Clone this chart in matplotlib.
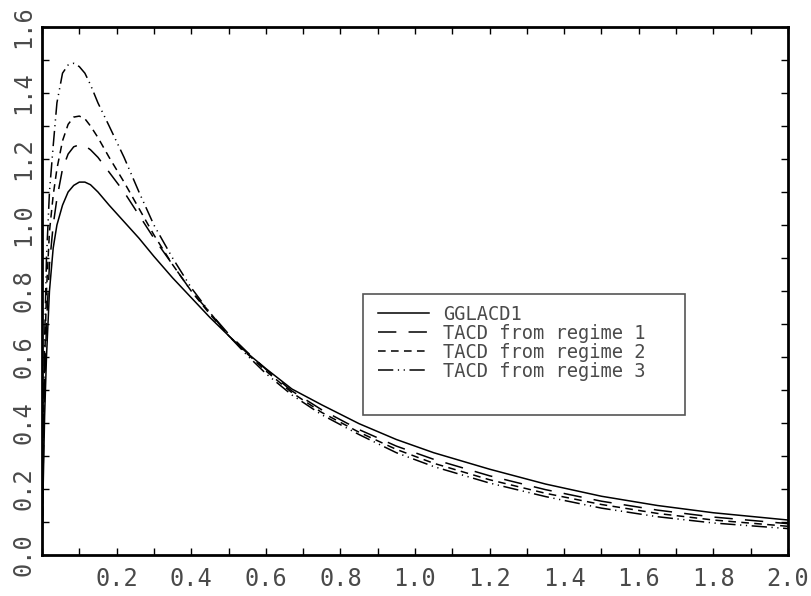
import numpy as np
import matplotlib
matplotlib.use('Agg')
import matplotlib.pyplot as plt
from matplotlib.ticker import MultipleLocator, FixedLocator
from matplotlib.patches import Rectangle

# values
x = [0, 0.003, 0.007, 0.012, 0.02, 0.03, 0.04, 0.055, 0.07, 0.085, 0.1, 0.115, 0.13,
     0.15, 0.18, 0.22, 0.26, 0.3, 0.35, 0.4, 0.45, 0.5, 0.55, 0.6, 0.67, 0.75,
     0.85, 0.95, 1.05, 1.2, 1.35, 1.5, 1.65, 1.8, 2.0]

gglacd1 = [0, 0.2, 0.42, 0.6, 0.8, 0.93, 1.0, 1.06, 1.1, 1.12, 1.13, 1.13, 1.122,
           1.1, 1.06, 1.01, 0.96, 0.905, 0.84, 0.78, 0.72, 0.665, 0.612, 0.565, 0.503, 0.455,
           0.398, 0.35, 0.31, 0.26, 0.215, 0.178, 0.15, 0.128, 0.106]
regime1 = [0, 0.25, 0.5, 0.7, 0.88, 1.0, 1.08, 1.17, 1.215, 1.237, 1.243, 1.24, 1.228,
           1.205, 1.16, 1.1, 1.03, 0.96, 0.88, 0.8, 0.735, 0.67, 0.615, 0.563, 0.497, 0.44,
           0.38, 0.33, 0.29, 0.24, 0.198, 0.163, 0.136, 0.115, 0.095]
regime2 = [0, 0.3, 0.58, 0.8, 0.98, 1.09, 1.17, 1.255, 1.305, 1.327, 1.33, 1.322, 1.3,
           1.265, 1.205, 1.13, 1.05, 0.97, 0.88, 0.8, 0.73, 0.665, 0.61, 0.558, 0.492, 0.432,
           0.372, 0.32, 0.278, 0.228, 0.187, 0.153, 0.126, 0.106, 0.087]
regime3 = [0, 0.35, 0.65, 0.9, 1.1, 1.24, 1.37, 1.46, 1.485, 1.49, 1.48, 1.46, 1.425,
           1.37, 1.3, 1.205, 1.1, 1.0, 0.9, 0.81, 0.735, 0.665, 0.605, 0.55, 0.485, 0.425,
           0.365, 0.31, 0.268, 0.218, 0.177, 0.142, 0.116, 0.097, 0.08]

labels = ['GGLACD1', 'TACD from regime 1', 'TACD from regime 2', 'TACD from regime 3']

plt.rcParams['font.family'] = ['DejaVu Sans Mono']
txtcol = '#4a4a4a'

fig = plt.figure(figsize=(8.12, 5.96), dpi=100)
ax = fig.add_axes([42/812, 41/596, 746/812, 528/596])

ax.plot(x, gglacd1, color='black', lw=1.1, linestyle='-', label=labels[0])
ax.plot(x, regime1, color='black', lw=1.1, linestyle=(0, (12, 8)), label=labels[1])
ax.plot(x, regime2, color='black', lw=1.1, linestyle=(0, (5, 3.5)), label=labels[2])
ax.plot(x, regime3, color='black', lw=1.1, linestyle=(0, (10, 3, 0.8, 3, 0.8, 3)), label=labels[3])

ax.set_xlim(0, 2.0)
ax.set_ylim(0, 1.6)

ax.xaxis.set_major_locator(FixedLocator(np.arange(0.2, 2.01, 0.2)))
ax.xaxis.set_minor_locator(MultipleLocator(0.1))
ax.yaxis.set_major_locator(MultipleLocator(0.2))
ax.yaxis.set_minor_locator(MultipleLocator(0.1))
ax.xaxis.set_major_formatter(plt.FuncFormatter(lambda v, p: '%.1f' % v))
ax.yaxis.set_major_formatter(plt.FuncFormatter(lambda v, p: '%.1f' % v))

ax.tick_params(which='both', direction='in', length=5, width=1, top=True, right=True,
               labelsize=17, colors='black', labelcolor=txtcol)
ax.tick_params(axis='x', pad=9)
ax.tick_params(axis='y', pad=5)
for lab in ax.get_yticklabels():
    lab.set_rotation(90)
    lab.set_va('center')
for sp in ax.spines.values():
    sp.set_linewidth(2)

# legend frame (taller than the entries, as in the reference)
ax.add_patch(Rectangle((321/746, 140/528), 322/746, 121/528, transform=ax.transAxes,
                       fill=False, edgecolor='#555555', lw=1.2, zorder=5))
leg = ax.legend(loc='upper left', bbox_to_anchor=(336/746, 250/528), fontsize=13.5,
                frameon=False, handlelength=2.7, borderpad=0, labelspacing=0.0,
                handletextpad=0.75, borderaxespad=0)
for t in leg.get_texts():
    t.set_color(txtcol)

fig.savefig('out.png', dpi=100)
